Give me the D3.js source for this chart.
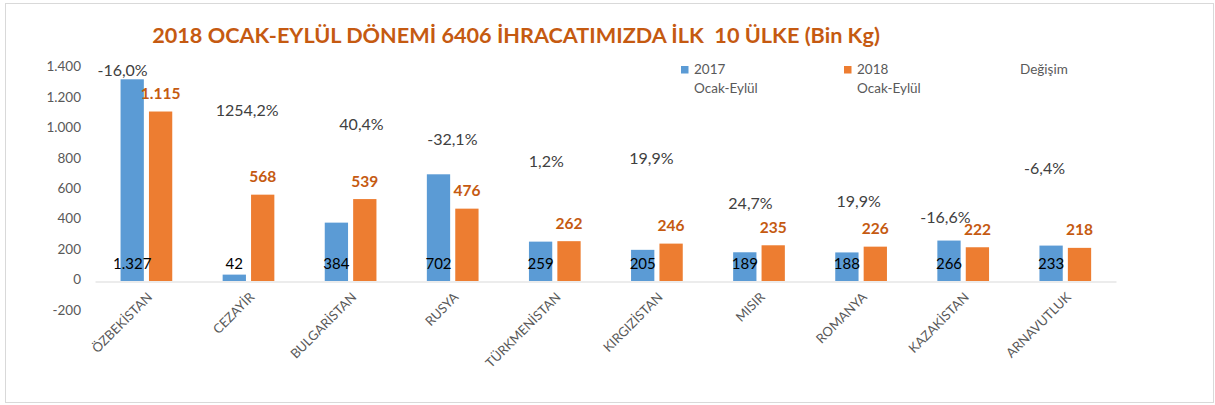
<!DOCTYPE html>
<html><head><meta charset="utf-8">
<script src="https://cdn.jsdelivr.net/npm/d3@7"></script>
<style>
body{margin:0;background:#fff}
svg{display:block}
text{font-family:Lato,"Open Sans",sans-serif}
</style>
</head><body>
<svg id="chart" width="1215" height="405"></svg>
<script>
const categories = ["ÖZBEKİSTAN","CEZAYİR","BULGARİSTAN","RUSYA","TÜRKMENİSTAN","KIRGIZİSTAN","MISIR","ROMANYA","KAZAKİSTAN","ARNAVUTLUK"];
const values2017 = [1327,42,384,702,259,205,189,188,266,233];
const values2018 = [1115,568,539,476,262,246,235,226,222,218];
const changePct = [-16.0,1254.2,40.4,-32.1,1.2,19.9,24.7,19.9,-16.6,-6.4];
// where the "Değişim" labels sit (value units / band units)
const changeLabelAt = [1390,1125,1030,935,790,805,510,525,420,745];
const changeLabelShift = [-0.23,-0.01,0.11,0,-0.08,-0.05,-0.08,-0.02,-0.17,-0.2];
const yTicks = [-200,0,200,400,600,800,1000,1200,1400];
const seriesNames = ["2017","2018"];
const legendLabels = [["2017","Ocak-Eylül"],["2018","Ocak-Eylül"],["Değişim"]];
const titleText = "2018 OCAK-EYLÜL DÖNEMİ 6406 İHRACATIMIZDA İLK  10 ÜLKE (Bin Kg)";

const colors = {"2017":"#5B9BD5","2018":"#ED7D31"};
const svg = d3.select("#chart");
const W = 1215, H = 405;
const locale = d3.formatLocale({decimal:",", thousands:".", grouping:[3], currency:["",""], minus:"-"});
const fmtInt = locale.format(",");
const fmtPct = v => locale.format(".1f")(v) + "%";

// frame
svg.append("rect").attr("x",5.5).attr("y",3.5).attr("width",1208).attr("height",399)
  .attr("fill","#fff").attr("stroke","#d9d9d9").attr("stroke-width",1);

const plot = {left:95, right:1116, top:68.2, bottom:311.4};
const x = d3.scaleBand().domain(categories).range([plot.left, plot.right]).paddingInner(0).paddingOuter(0);
const y = d3.scaleLinear().domain([-200,1400]).range([plot.bottom, plot.top]);
const bw = x.bandwidth();
const xs = d3.scaleBand().domain(seriesNames).range([bw/2-25.5, bw/2+26.2]).paddingInner(0.18).paddingOuter(0);

// title
const title = svg.append("text").attr("x",516).attr("y",43).attr("text-anchor","middle")
  .attr("font-weight","bold").attr("fill","#C55A11").style("white-space","pre")
  .attr("font-size",20).text(titleText);
const tl = title.node().getComputedTextLength();
title.attr("font-size", 20*728/tl);

// y axis labels
const yAxis = d3.axisLeft(y).tickValues(yTicks).tickFormat(fmtInt).tickSize(0).tickPadding(0);
const gy = svg.append("g").attr("transform","translate(81,0)").call(yAxis);
gy.select(".domain").remove();
gy.selectAll("text").attr("fill","#595959").attr("font-size",13.5).attr("dy","0.2em")
  .style("font-family","Lato,'Open Sans',sans-serif");

// bars
const rows = categories.map((c,i)=>({c, i, v:{"2017":values2017[i],"2018":values2018[i]}}));
const g = svg.append("g");
rows.forEach(r=>{
  seriesNames.forEach(s=>{
    const v = r.v[s];
    g.append("rect").attr("x", x(r.c)+xs(s)).attr("width", xs.bandwidth())
      .attr("y", y(Math.max(0,v))).attr("height", Math.abs(y(v)-y(0)))
      .attr("fill", colors[s]);
  });
});

// zero axis line
const xAxis = d3.axisBottom(x).tickSize(0).tickFormat("");
const gx = svg.append("g").attr("transform",`translate(0,${y(0)+0.5})`).call(xAxis);
gx.select(".domain").attr("stroke","#d9d9d9").attr("stroke-width",1);

// category labels
svg.append("g").selectAll("text").data(categories).join("text")
  .attr("transform", d=>`translate(${x(d)+bw/2+7},${y(0)+17}) rotate(-45)`)
  .attr("text-anchor","end").attr("fill","#595959").attr("font-size",13).text(d=>d);

// 2017 labels (inside base)
svg.append("g").selectAll("text").data(rows).join("text")
  .attr("x", d=>x(d.c)+xs("2017")+xs.bandwidth()/2).attr("y", y(0)-12.5)
  .attr("text-anchor","middle").attr("fill","#000").attr("font-size",15)
  .text(d=>fmtInt(d.v["2017"]));

// 2018 labels (outside end)
svg.append("g").selectAll("text").data(rows).join("text")
  .attr("x", d=>x(d.c)+xs("2018")+xs.bandwidth()/2).attr("y", d=>y(d.v["2018"])-12.5)
  .attr("text-anchor","middle").attr("fill","#C55A11").attr("font-weight","bold").attr("font-size",15.5)
  .text(d=>fmtInt(d.v["2018"]));

// change labels
svg.append("g").selectAll("text").data(rows).join("text")
  .attr("x", d=>x(d.c)+bw/2+changeLabelShift[d.i]*bw).attr("y", d=>y(changeLabelAt[d.i])+5.8)
  .attr("text-anchor","middle").attr("fill","#404040").attr("font-size",16)
  .text(d=>fmtPct(changePct[d.i]));

// legend
const lg = svg.append("g");
legendLabels.forEach((lines,i)=>{
  const lx = 681 + i*163;
  if (i < seriesNames.length) {
    lg.append("rect").attr("x",lx).attr("y",66).attr("width",7.5).attr("height",7.5).attr("fill",colors[seriesNames[i]]);
  }
  const t = lg.append("text").attr("x",lx+13).attr("y",74).attr("fill","#595959").attr("font-size",13.5);
  lines.forEach((ln,j)=>{
    t.append("tspan").attr("x",lx+13).attr("dy", j===0?0:18.5).text(ln);
  });
});
</script>
</body></html>
